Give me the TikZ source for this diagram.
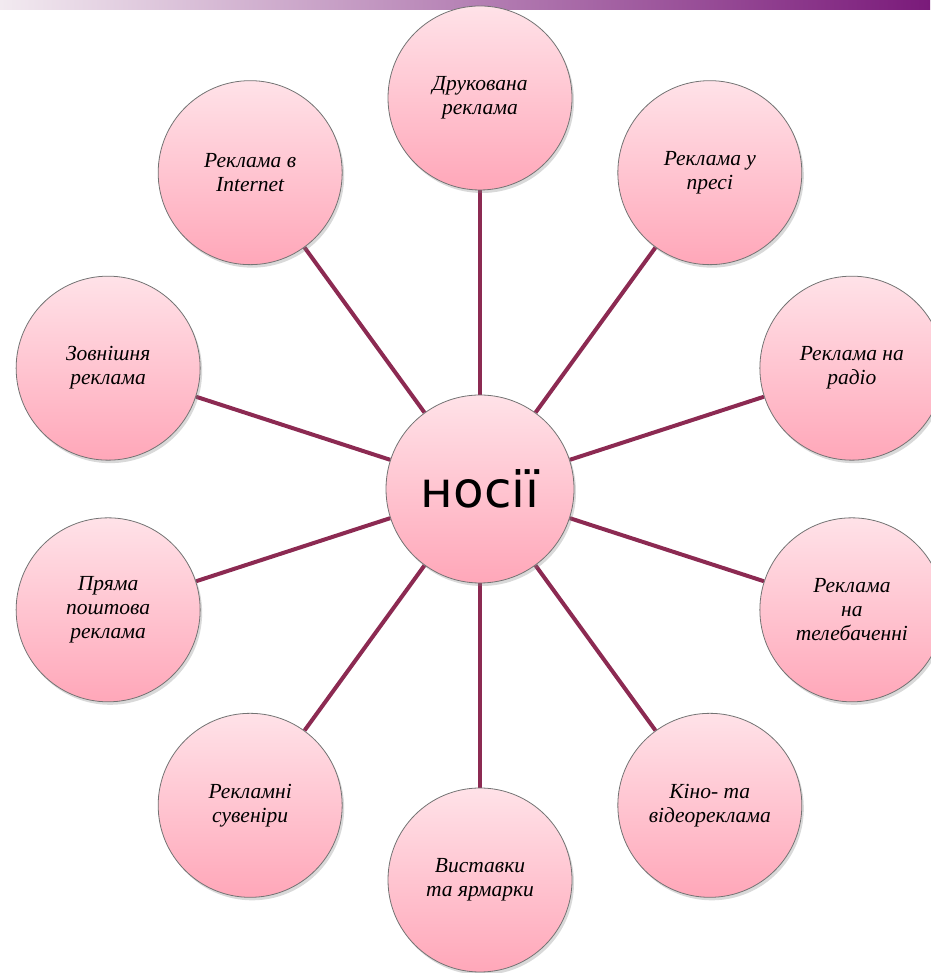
\documentclass[tikz,border=0pt]{standalone}
\usepackage{fontspec}
\setmainfont{Liberation Serif}
\newfontfamily\hubfont{DejaVu Sans}
\usetikzlibrary{shadows,backgrounds}
\definecolor{linec}{HTML}{8C2A52}
\definecolor{pinktop}{HTML}{FFE2E8}
\definecolor{pinkbot}{HTML}{FFA7B9}
\definecolor{barleft}{HTML}{F2EAF0}
\definecolor{barright}{HTML}{7A1A7A}
\begin{document}
\begin{tikzpicture}[x=1pt,y=1pt,
  bub/.style={circle, draw=black!55, line width=0.8pt,
    top color=pinktop, bottom color=pinkbot,
    minimum size=184pt, inner sep=0pt, align=center,
    font=\fontsize{21.5}{24}\selectfont\itshape,
    drop shadow={opacity=0.3, shadow xshift=2pt, shadow yshift=-3pt}},
  spoke/.style={draw=linec, line width=4pt}]
\useasboundingbox (0,0) rectangle (930,973);
\shade[left color=barleft, right color=barright] (0,963) rectangle (930,973);
\node[bub, minimum size=188pt, font=\hubfont\fontsize{50}{60}\selectfont] (hub) at (480,484) {носії};
\foreach \a/\t [count=\i] in {
  90/{Друкована\\реклама},
  54/{Реклама у\\пресі},
  18/{Реклама на\\радіо},
  -18/{Реклама\\на\\телебаченні},
  -54/{Кіно- та\\відеореклама},
  -90/{Виставки\\та ярмарки},
  -126/{Рекламні\\сувеніри},
  -162/{Пряма\\поштова\\реклама},
  162/{Зовнішня\\реклама},
  126/{Реклама в\\Internet}}
  \node[bub] (n\i) at ([shift={(\a:391)}]480,484) {\t};
\begin{scope}[on background layer]
  \foreach \i in {1,...,10} \draw[spoke] (hub) -- (n\i);
\end{scope}
\end{tikzpicture}
\end{document}
